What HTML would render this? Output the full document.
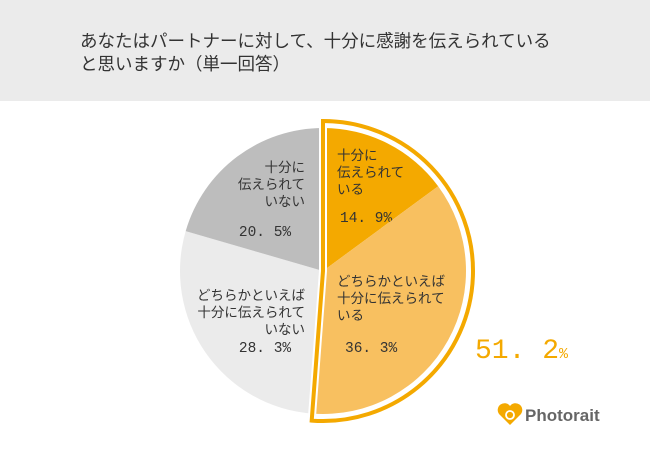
<!DOCTYPE html>
<html><head><meta charset="utf-8"><style>
body{margin:0;width:650px;height:465px;background:#fff;font-family:"Liberation Sans","Noto Sans CJK JP",sans-serif;overflow:hidden;position:relative}
#hdr{position:absolute;left:0;top:0;width:650px;height:101px;background:#ebebeb}
#title{position:absolute;left:80px;top:30px;font-size:17.5px;line-height:23px;color:#333}
svg{position:absolute;left:0;top:0}
</style></head><body>
<div id="hdr"></div>
<div id="title">あなたはパートナーに対して、十分に感謝を伝えられている<br>と思いますか（単一回答）</div>
<svg id="chart" width="650" height="465"></svg>
<script>
const categories=[["十分に","伝えられて","いる"],["どちらかといえば","十分に伝えられて","いる"],["どちらかといえば","十分に伝えられて","いない"],["十分に","伝えられて","いない"]];
const values=[14.9,36.3,28.3,20.5];
const valueLabels=["14. 9%","36. 3%","28. 3%","20. 5%"];
const colors=["#f4a900","#f8c060","#ebebeb","#bdbdbd"];
const highlightTotal="51. 2";
const NS="http://www.w3.org/2000/svg";
const svg=document.getElementById('chart');
const cx=323,cy=271,R=143;
const total=values.reduce((a,b)=>a+b,0);
function pt(frac,r){const a=frac*2*Math.PI-Math.PI/2;return [cx+r*Math.cos(a),cy+r*Math.sin(a)];}
function wedge(f0,f1,r){const p0=pt(f0,r),p1=pt(f1,r);const large=(f1-f0)>0.5?1:0;return `M${cx},${cy}L${p0[0]},${p0[1]}A${r},${r} 0 ${large} 1 ${p1[0]},${p1[1]}Z`;}
function mk(tag,attrs){const e=document.createElementNS(NS,tag);for(const k in attrs)e.setAttribute(k,attrs[k]);svg.appendChild(e);return e;}
let acc=0;
const labelPos=[[337,160,'start',340,222],[337,286,'start',345,352],[305,300,'end',265,352],[305,172,'end',265,236]];
values.forEach((v,i)=>{
  const f0=acc/total,f1=(acc+v)/total;acc+=v;
  const p=mk('path',{d:wedge(f0,f1,R),fill:colors[i]});
  
  
  const lp=labelPos[i];
  categories[i].forEach((line,j)=>{
    const t=mk('text',{x:lp[0],y:lp[1]+j*17,'text-anchor':lp[2],'font-size':'13.5','fill':'#333'});
    t.textContent=line;
    
    
  });
  const vt=mk('text',{x:lp[3],y:lp[4],'text-anchor':i>=2?'middle':'start','font-size':'14.5','fill':'#333','font-family':'Liberation Mono, monospace'});
  vt.textContent=valueLabels[i];
  
  
});
const hf=(values[0]+values[1])/total;
const o1=mk('path',{d:wedge(0,hf,149),fill:'none',stroke:'#fff','stroke-width':'8'});


const o2=mk('path',{d:wedge(0,hf,150),fill:'none',stroke:'#f4a900','stroke-width':'4','stroke-linejoin':'miter'});


const ht=mk('text',{x:475,y:358,'font-size':'28','fill':'#f4a900','font-family':'Liberation Mono, monospace'});
ht.innerHTML=highlightTotal+'<tspan font-size="15">%</tspan>';


</script>
<svg width="650" height="465" style="pointer-events:none">
<path d="M510 425 L499 414 A6 6 0 0 1 510 406 A6 6 0 0 1 521 414 Z" fill="#f4a900"/>
<circle cx="510" cy="415" r="4" fill="none" stroke="#fff" stroke-width="1.8"/>
<text x="525" y="421" font-size="17" font-weight="bold" fill="#666" font-family="Liberation Sans, sans-serif">Photorait</text>
</svg>
</body></html>
